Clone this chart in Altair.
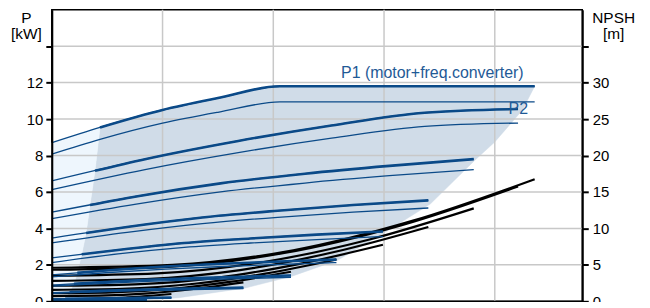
import altair as alt
import pandas as pd

FONT = "Liberation Sans, Arial, sans-serif"
BLUE = "#0b4a88"
TEXTBLUE = "#1f5a96"
DARK = "#d0dce8"
LIGHT = "#eef6fd"
GRID = "#c8c8c8"

# ---- pump power curves (Q in grid units, P in kW) ----
speeds = ["A", "B", "C", "D", "E", "F", "G", "H", "I", "J"]

q_A = [0, 0.435, 1.0, 1.5, 2.06, 4.36]
p1_A = [8.7, 9.54, 10.5, 11.15, 11.8, 11.8]
p2_A = [8.07, 8.88, 9.77, 10.37, 10.94, 10.94]

q_B = [0, 0.842, 1.684, 2.526, 3.368, 4.21]
p1_B = [6.61, 7.8, 8.8, 9.65, 10.35, 10.55]
p2_B = [6.13, 7.23, 8.16, 8.95, 9.6, 9.78]

q_C = [0, 0.762, 1.524, 2.286, 3.048, 3.81]
p1_C = [4.89, 5.75, 6.47, 7.0, 7.43, 7.8]
p2_C = [4.53, 5.33, 6.0, 6.49, 6.89, 7.23]

q_D = [0, 0.68, 1.36, 2.04, 2.72, 3.40]
p1_D = [3.47, 4.08, 4.6, 4.97, 5.28, 5.54]
p2_D = [3.2, 3.78, 4.26, 4.61, 4.89, 5.12]

q_E = [0, 0.598, 1.196, 1.794, 2.392, 2.99]
p1_E = [2.38, 2.82, 3.2, 3.45, 3.66, 3.83]
p2_E = [2.12, 2.6, 2.96, 3.2, 3.39, 3.55]

q_F = [0, 0.514, 1.028, 1.542, 2.056, 2.57]
p1_F = [1.45, 1.7, 1.91, 2.06, 2.18, 2.29]
p2_F = [1.34, 1.58, 1.77, 1.91, 2.02, 2.12]

q_G = [0, 0.432, 0.864, 1.296, 1.728, 2.16]
p1_G = [0.89, 1.05, 1.18, 1.27, 1.35, 1.42]
p2_G = [0.83, 0.97, 1.09, 1.18, 1.25, 1.32]

q_H = [0, 0.346, 0.692, 1.038, 1.384, 1.73]
p1_H = [0.47, 0.55, 0.62, 0.67, 0.71, 0.75]
p2_H = [0.44, 0.51, 0.58, 0.62, 0.66, 0.70]

q_I = [0, 0.27, 0.54, 0.81, 1.08]
p1_I = [0.13, 0.15, 0.17, 0.19, 0.2]
p2_I = [0.12, 0.14, 0.16, 0.175, 0.185]

q_J = [0, 0.215, 0.43, 0.645, 0.86]
p1_J = [0.05, 0.06, 0.07, 0.075, 0.08]
p2_J = [0.046, 0.055, 0.065, 0.07, 0.074]

# minimum-flow point of each speed (start of the operating range)
qmin = [0.435, 0.39, 0.345, 0.31, 0.27, 0.23, 0.2, 0.16, 0.12, 0.09]
pmin = [9.54, 7.16, 5.28, 3.75, 2.58, 1.56, 0.96, 0.51, 0.14, 0.05]

# ---- NPSH curves (m) ----
nq_A = [0, 1.09, 2.18, 3.27, 4.36]
npsh_A = [4.6, 5.0, 7.0, 11.1, 16.75]
nq_B = [0, 1.05, 2.1, 3.16, 4.21]
npsh_B = [4.33, 4.73, 6.62, 10.44, 15.75]
nq_C = [0, 0.95, 1.9, 2.86, 3.81]
npsh_C = [3.51, 3.83, 5.36, 8.45, 12.75]
nq_D = [0, 0.85, 1.7, 2.55, 3.40]
npsh_D = [2.81, 3.06, 4.28, 6.76, 10.2]
nq_E = [0, 0.75, 1.5, 2.24, 2.99]
npsh_E = [2.13, 2.33, 3.26, 5.14, 7.75]
nq_F = [0, 0.64, 1.29, 1.93, 2.57]
npsh_F = [1.58, 1.72, 2.41, 3.8, 5.73]
nq_G = [0, 0.54, 1.08, 1.62, 2.16]
npsh_G = [1.11, 1.22, 1.7, 2.69, 4.05]
nq_H = [0, 0.43, 0.87, 1.3, 1.73]
npsh_H = [0.72, 0.78, 1.09, 1.72, 2.6]
nq_I = [0, 0.27, 0.54, 0.81, 1.08]
npsh_I = [0.28, 0.3, 0.42, 0.66, 1.0]
nq_J = [0, 0.215, 0.43, 0.645, 0.86]
npsh_J = [0.18, 0.19, 0.27, 0.42, 0.64]

# ---- operating-range boundaries ----
minflow_q = [0.435, 0.39, 0.345, 0.31, 0.27, 0.23, 0.2, 0.16, 0.12, 0.09, 0.08]
minflow_p = [9.54, 7.16, 5.28, 3.75, 2.58, 1.56, 0.96, 0.51, 0.14, 0.05, 0.0]
maxflow_q = [4.36, 4.25, 4.0, 3.82, 3.42, 3.0, 2.58, 2.17, 1.74, 1.15, 0.88, 0.55]
maxflow_p = [11.8, 10.5, 8.74, 7.74, 5.35, 3.75, 2.25, 1.38, 0.72, 0.2, 0.07, 0.0]

grid_q = [1, 2, 3, 4]
grid_p = [2, 4, 6, 8, 10, 12, 14]
p_ticks = [0, 2, 4, 6, 8, 10, 12, 14]
npsh_ticks = [0, 5, 10, 15, 20, 25, 30, 35]

label_text = ["P1 (motor+freq.converter)", "P2"]
label_q = [4.26, 4.30]
label_p = [12.23, 10.27]

# ---------------- tables ----------------
q_lists = [q_A, q_B, q_C, q_D, q_E, q_F, q_G, q_H, q_I, q_J]
p1_lists = [p1_A, p1_B, p1_C, p1_D, p1_E, p1_F, p1_G, p1_H, p1_I, p1_J]
p2_lists = [p2_A, p2_B, p2_C, p2_D, p2_E, p2_F, p2_G, p2_H, p2_I, p2_J]
nq_lists = [nq_A, nq_B, nq_C, nq_D, nq_E, nq_F, nq_G, nq_H, nq_I, nq_J]
npsh_lists = [npsh_A, npsh_B, npsh_C, npsh_D, npsh_E, npsh_F, npsh_G, npsh_H, npsh_I, npsh_J]

thin_rows, thick_rows, npsh_rows = [], [], []
for s, qs, p1s, p2s, q0, p0 in zip(speeds, q_lists, p1_lists, p2_lists, qmin, pmin):
    for i, (q, p) in enumerate(zip(qs, p1s)):
        thin_rows.append({"curve": s + "1", "q": q, "p": p, "i": i})
    for i, (q, p) in enumerate(zip(qs, p2s)):
        thin_rows.append({"curve": s + "2", "q": q, "p": p, "i": i})
    thick_rows.append({"curve": s, "q": q0, "p": p0, "i": 0})
    k = 1
    for q, p in zip(qs, p1s):
        if q > q0:
            thick_rows.append({"curve": s, "q": q, "p": p, "i": k})
            k += 1
for s, qs, ns in zip(speeds, nq_lists, npsh_lists):
    for i, (q, n) in enumerate(zip(qs, ns)):
        npsh_rows.append({"curve": s, "q": q, "npsh": n, "i": i})

df_thin = pd.DataFrame(thin_rows)
df_thick = pd.DataFrame(thick_rows)
df_npsh = pd.DataFrame(npsh_rows)

# light polygon: left of the minimum-flow line
light_pts = [(0.0, 0.0), (q_A[0], p1_A[0])] + list(zip(minflow_q, minflow_p))
df_light = pd.DataFrame([{"q": q, "p": p, "i": i} for i, (q, p) in enumerate(light_pts)])

# dark polygon: operating range
dark_pts = list(zip(minflow_q[::-1], minflow_p[::-1]))
dark_pts += [(q, p) for q, p in zip(q_A, p1_A) if q > minflow_q[0]]
dark_pts += list(zip(maxflow_q, maxflow_p))
df_dark = pd.DataFrame([{"q": q, "p": p, "i": i} for i, (q, p) in enumerate(dark_pts)])

df_labels = pd.DataFrame({"t": label_text, "q": label_q, "p": label_p})

# ---------------- encodings ----------------
xs = alt.Scale(domain=[0, 4.79], nice=False, zero=False)
x_axis = alt.Axis(orient="bottom", labels=False, ticks=False, grid=False,
                  domainColor="black", domainWidth=2, title=None, zindex=1)
X = alt.X("q:Q", scale=xs, axis=x_axis)
ys = alt.Scale(domain=[0, 16], nice=False, zero=False)
Y = alt.Y("p:Q", scale=ys, axis=None)

left_axis = alt.Axis(
    orient="left", values=p_ticks, grid=False,
    labelExpr="datum.value <= 12 ? datum.label : ''",
    domainColor="black", domainWidth=2, tickColor="black", tickWidth=2, tickSize=6,
    labelColor="black", labelFontSize=15, labelFont=FONT, labelPadding=3,
    title=["P", "[kW]"], titleAngle=0, titleAlign="center", titleBaseline="top",
    titleX=-26, titleY=1, titleFontSize=15.5, titleFont=FONT, titleFontWeight="normal",
    titleLineHeight=16, titleColor="black", zindex=1,
)
right_axis = alt.Axis(
    orient="right", values=npsh_ticks, grid=False,
    labelExpr="datum.value <= 30 ? datum.label : ''",
    domainColor="black", domainWidth=2, tickColor="black", tickWidth=2, tickSize=6,
    labelColor="black", labelFontSize=15, labelFont=FONT, labelPadding=4,
    title=["NPSH", "[m]"], titleAngle=0, titleAlign="center", titleBaseline="top",
    titleX=31, titleY=1, titleFontSize=15.5, titleFont=FONT, titleFontWeight="normal",
    titleLineHeight=16, titleColor="black", zindex=1,
)

dark = alt.Chart(df_dark).mark_line(fill=DARK, stroke=DARK, strokeWidth=0.5).encode(
    x=X, y=alt.Y("p:Q", scale=ys, axis=left_axis), order="i:Q")

light = alt.Chart(df_light).mark_line(fill=LIGHT, stroke=LIGHT, strokeWidth=0.5).encode(
    x=X, y=Y, order="i:Q")

vgrid = alt.Chart(pd.DataFrame({"q": grid_q})).mark_rule(color=GRID, strokeWidth=1.5).encode(x=X)
hgrid = alt.Chart(pd.DataFrame({"p": grid_p})).mark_rule(color=GRID, strokeWidth=1.5).encode(y=Y)

npsh = alt.Chart(df_npsh).mark_line(color="black", strokeWidth=2.2, interpolate="monotone").encode(
    x=X,
    y=alt.Y("npsh:Q", scale=alt.Scale(domain=[0, 40], nice=False, zero=False), axis=right_axis),
    detail="curve:N", order="i:Q")

thick = alt.Chart(df_thick).mark_line(color=BLUE, strokeWidth=2.6, interpolate="monotone").encode(
    x=X, y=Y, detail="curve:N", order="i:Q")

thin = alt.Chart(df_thin).mark_line(color=BLUE, strokeWidth=1.3, interpolate="monotone").encode(
    x=X, y=Y, detail="curve:N", order="i:Q")

labels = alt.Chart(df_labels).mark_text(align="right", baseline="alphabetic", fontSize=16,
                                        font=FONT, color=TEXTBLUE).encode(x=X, y=Y, text="t:N")

chart = alt.layer(dark, light, vgrid, hgrid, npsh, thick, thin, labels).resolve_scale(
    y="independent"
).properties(
    width=533, height=293,
    padding={"left": 44, "top": 1, "right": 60, "bottom": 0},
    autosize="none",
).configure_view(stroke="black", strokeWidth=1.5)

chart.save("out.html", embed_options={"renderer": "svg", "actions": False})
